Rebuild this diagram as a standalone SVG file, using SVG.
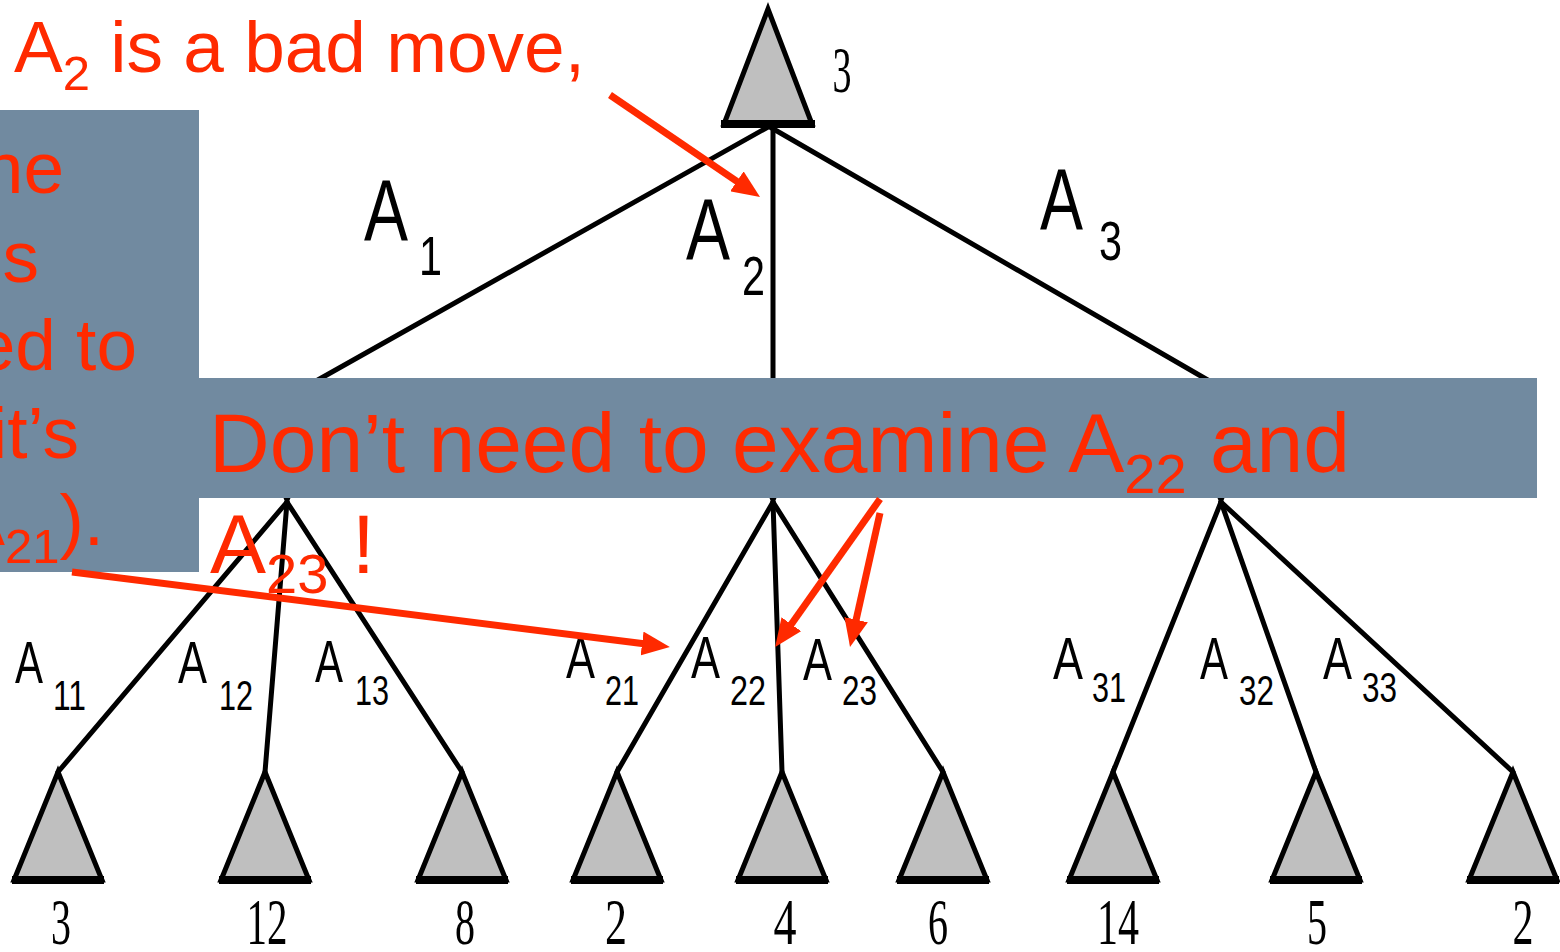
<svg xmlns="http://www.w3.org/2000/svg" width="1560" height="952" viewBox="0 0 1560 952">
<defs>
<style>
.edge{stroke:#000;stroke-width:5;fill:none;stroke-linecap:round}
.tri{fill:#bfbfbf;stroke:#000;stroke-width:5;stroke-linejoin:miter}
.base{stroke:#000;stroke-width:8}
.lbl{font-family:"Liberation Sans",Arial,sans-serif;fill:#000}
.num{font-family:"Liberation Serif","Times New Roman",serif;fill:#000;font-size:65px}
.red{font-family:"Liberation Sans",Arial,sans-serif;fill:#ff2a00}
.box{fill:#718aa0}
.arr{stroke:#ff2a00;stroke-width:7;fill:none}
</style>
<marker id="ah" viewBox="0 0 28 24" refX="8" refY="12" markerWidth="28" markerHeight="24" orient="auto" markerUnits="userSpaceOnUse">
<path d="M0,0 L28,12 L0,24 z" fill="#ff2a00"/>
</marker>
</defs>
<rect width="1560" height="952" fill="#fff"/>

<g id="connectors">
<line class="edge" x1="768" y1="127" x2="300" y2="390"/>
<line class="edge" x1="773" y1="125" x2="773" y2="392"/>
<line class="edge" x1="770" y1="127" x2="1225" y2="390"/>
<line class="edge" x1="287" y1="502" x2="58" y2="772"/>
<line class="edge" x1="287" y1="502" x2="265" y2="772"/>
<line class="edge" x1="287" y1="502" x2="462" y2="772"/>
<line class="edge" x1="773" y1="502" x2="617" y2="772"/>
<line class="edge" x1="773" y1="502" x2="782" y2="772"/>
<line class="edge" x1="773" y1="502" x2="943" y2="772"/>
<line class="edge" x1="1221" y1="502" x2="1113" y2="772"/>
<line class="edge" x1="1221" y1="502" x2="1316" y2="772"/>
<line class="edge" x1="1221" y1="502" x2="1513" y2="772"/>
</g>

<g id="root">
<polygon class="tri" points="768,9 724,124 812,124"/>
<line class="base" x1="721" y1="124" x2="815" y2="124"/>
<text class="num" x="842" y="92" text-anchor="middle" textLength="19" lengthAdjust="spacingAndGlyphs">3</text>
</g>

<g id="min1"><polygon class="tri" points="242,390 332,390 287,500"/></g>
<g id="min2"><polygon class="tri" points="728,390 818,390 773,500"/></g>
<g id="min3"><polygon class="tri" points="1176,390 1266,390 1221,500"/></g>

<g id="leaf11"><polygon class="tri" points="58,772 14,880 102,880"/><line class="base" x1="12" y1="880" x2="104" y2="880"/><text class="num" x="61" y="944" text-anchor="middle" textLength="20" lengthAdjust="spacingAndGlyphs">3</text></g>
<g id="leaf12"><polygon class="tri" points="265,772 221,880 309,880"/><line class="base" x1="219" y1="880" x2="311" y2="880"/><text class="num" x="267" y="944" text-anchor="middle" textLength="41" lengthAdjust="spacingAndGlyphs">12</text></g>
<g id="leaf13"><polygon class="tri" points="462,772 418,880 506,880"/><line class="base" x1="416" y1="880" x2="508" y2="880"/><text class="num" x="465" y="944" text-anchor="middle" textLength="20" lengthAdjust="spacingAndGlyphs">8</text></g>
<g id="leaf21"><polygon class="tri" points="617,772 573,880 661,880"/><line class="base" x1="571" y1="880" x2="663" y2="880"/><text class="num" x="616" y="944" text-anchor="middle" textLength="22" lengthAdjust="spacingAndGlyphs">2</text></g>
<g id="leaf22"><polygon class="tri" points="782,772 738,880 826,880"/><line class="base" x1="736" y1="880" x2="828" y2="880"/><text class="num" x="785" y="944" text-anchor="middle" textLength="23" lengthAdjust="spacingAndGlyphs">4</text></g>
<g id="leaf23"><polygon class="tri" points="943,772 899,880 987,880"/><line class="base" x1="897" y1="880" x2="989" y2="880"/><text class="num" x="938" y="944" text-anchor="middle" textLength="20" lengthAdjust="spacingAndGlyphs">6</text></g>
<g id="leaf31"><polygon class="tri" points="1113,772 1069,880 1157,880"/><line class="base" x1="1067" y1="880" x2="1159" y2="880"/><text class="num" x="1118" y="944" text-anchor="middle" textLength="42" lengthAdjust="spacingAndGlyphs">14</text></g>
<g id="leaf32"><polygon class="tri" points="1316,772 1272,880 1360,880"/><line class="base" x1="1270" y1="880" x2="1362" y2="880"/><text class="num" x="1317" y="944" text-anchor="middle" textLength="20" lengthAdjust="spacingAndGlyphs">5</text></g>
<g id="leaf33"><polygon class="tri" points="1513,772 1469,880 1557,880"/><line class="base" x1="1467" y1="880" x2="1559" y2="880"/><text class="num" x="1523" y="944" text-anchor="middle" textLength="21" lengthAdjust="spacingAndGlyphs">2</text></g>

<g id="edge-labels">
<text class="lbl" x="364" y="241" font-size="88" textLength="44" lengthAdjust="spacingAndGlyphs">A</text>
<text class="lbl" x="419" y="275" font-size="56" textLength="23" lengthAdjust="spacingAndGlyphs">1</text>
<text class="lbl" x="686" y="260" font-size="88" textLength="44" lengthAdjust="spacingAndGlyphs">A</text>
<text class="lbl" x="742" y="295" font-size="56" textLength="23" lengthAdjust="spacingAndGlyphs">2</text>
<text class="lbl" x="1040" y="230" font-size="88" textLength="43" lengthAdjust="spacingAndGlyphs">A</text>
<text class="lbl" x="1099" y="260" font-size="56" textLength="23" lengthAdjust="spacingAndGlyphs">3</text>

<text class="lbl" x="15" y="683" font-size="60" textLength="28" lengthAdjust="spacingAndGlyphs">A</text>
<text class="lbl" x="53" y="710" font-size="42" textLength="33" lengthAdjust="spacingAndGlyphs">11</text>
<text class="lbl" x="178" y="683" font-size="60" textLength="29" lengthAdjust="spacingAndGlyphs">A</text>
<text class="lbl" x="219" y="710" font-size="42" textLength="34" lengthAdjust="spacingAndGlyphs">12</text>
<text class="lbl" x="315" y="682" font-size="60" textLength="28" lengthAdjust="spacingAndGlyphs">A</text>
<text class="lbl" x="355" y="705" font-size="42" textLength="34" lengthAdjust="spacingAndGlyphs">13</text>
<text class="lbl" x="566" y="678" font-size="60" textLength="29" lengthAdjust="spacingAndGlyphs">A</text>
<text class="lbl" x="605" y="705" font-size="42" textLength="34" lengthAdjust="spacingAndGlyphs">21</text>
<text class="lbl" x="691" y="678" font-size="60" textLength="29" lengthAdjust="spacingAndGlyphs">A</text>
<text class="lbl" x="730" y="705" font-size="42" textLength="36" lengthAdjust="spacingAndGlyphs">22</text>
<text class="lbl" x="803" y="680" font-size="60" textLength="29" lengthAdjust="spacingAndGlyphs">A</text>
<text class="lbl" x="842" y="705" font-size="42" textLength="35" lengthAdjust="spacingAndGlyphs">23</text>
<text class="lbl" x="1053" y="679" font-size="60" textLength="30" lengthAdjust="spacingAndGlyphs">A</text>
<text class="lbl" x="1092" y="702" font-size="42" textLength="34" lengthAdjust="spacingAndGlyphs">31</text>
<text class="lbl" x="1200" y="679" font-size="60" textLength="28" lengthAdjust="spacingAndGlyphs">A</text>
<text class="lbl" x="1239" y="705" font-size="42" textLength="35" lengthAdjust="spacingAndGlyphs">32</text>
<text class="lbl" x="1323" y="679" font-size="60" textLength="29" lengthAdjust="spacingAndGlyphs">A</text>
<text class="lbl" x="1362" y="702" font-size="42" textLength="35" lengthAdjust="spacingAndGlyphs">33</text>
</g>

<g id="left-note">
<rect class="box" x="0" y="110" width="199" height="462"/>
<text class="red" font-size="73" text-anchor="end" x="64" y="193">ne</text>
<text class="red" font-size="73" text-anchor="end" x="39" y="282">s</text>
<text class="red" font-size="73" text-anchor="end" x="137" y="370">ed to</text>
<text class="red" font-size="73" text-anchor="end" x="79" y="458">it’s</text>
<text class="red" font-size="73" text-anchor="end" x="104" y="545">(A<tspan font-size="49" dy="18">21</tspan><tspan dy="-18">).</tspan></text>
</g>

<g id="banner">
<rect class="box" x="199" y="378" width="1338" height="120"/>
<text class="red" font-size="84" x="209" y="472">Don’t need to examine A<tspan font-size="56" dy="21">22</tspan><tspan dy="-21"> and</tspan></text>
<text class="red" font-size="84" x="210" y="573">A<tspan font-size="56" dy="20">23</tspan><tspan dy="-20"> !</tspan></text>
</g>

<g id="title">
<text class="red" font-size="73" x="14" y="72">A<tspan font-size="49" dy="18">2</tspan><tspan dy="-18"> is a bad move,</tspan></text>
</g>

<g id="arrows">
<line class="arr" x1="610" y1="95" x2="743.5" y2="185.8" marker-end="url(#ah)"/>
<line class="arr" x1="72" y1="572" x2="650" y2="644.5" marker-end="url(#ah)"/>
<line class="arr" x1="880" y1="499" x2="786.7" y2="630.8" marker-end="url(#ah)"/>
<line class="arr" x1="880" y1="513" x2="854.4" y2="627.5" marker-end="url(#ah)"/>
</g>
</svg>
